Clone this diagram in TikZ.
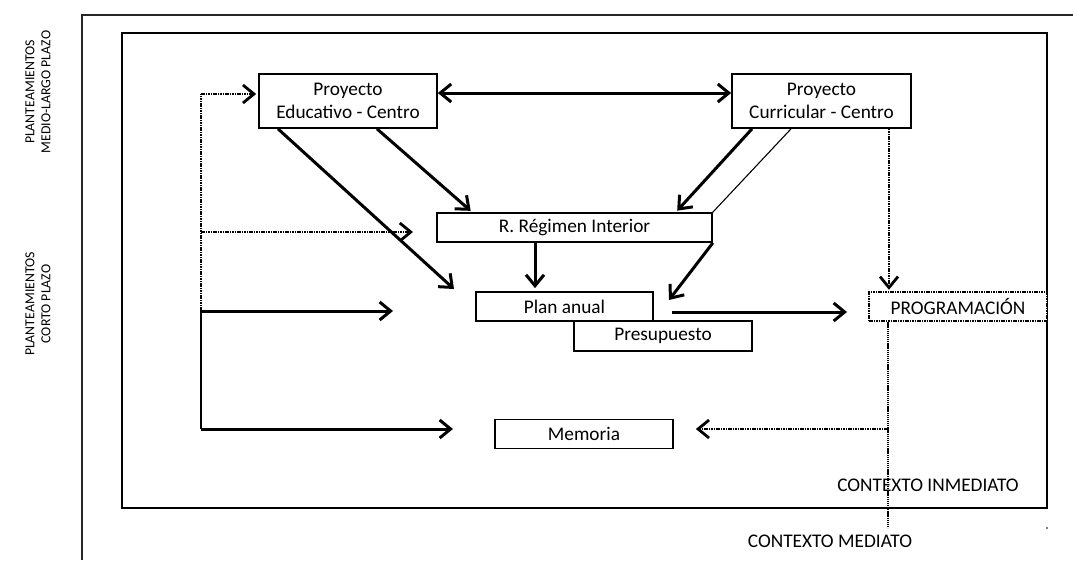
\documentclass[tikz,border=0pt]{standalone}
\usepackage{fontspec}
\setmainfont{Carlito}
\usetikzlibrary{arrows.meta}
\begin{document}
\begin{tikzpicture}[x=1pt,y=-1pt,
  txt/.style={font=\fontsize{19.3}{23}\selectfont},
  box/.style={txt, draw, fill=white, line width=1.7pt, inner sep=0pt,
    minimum width=178pt, minimum height=29pt, align=center},
  dotbox/.style={box, dash pattern=on 1.6pt off 0.8pt, line width=2.4pt},
  arr/.style={line width=3pt, -{Straight Barb[length=11pt,width=18pt]}},
  dotarr/.style={line width=2.8pt, dash pattern=on 1.6pt off 0.8pt,
    -{Straight Barb[length=11pt,width=18pt]}},
  dotline/.style={line width=2.8pt, dash pattern=on 1.6pt off 0.8pt},
  fineline/.style={line width=1.3pt, dash pattern=on 1.3pt off 0.8pt},
  side/.style={font=\fontsize{13.8}{16}\selectfont, align=center, rotate=90}]

\useasboundingbox (0,0) rectangle (1073,560);

% outer frame (open on right and bottom) and inner frame
\draw[line width=1.4pt, black!85] (82,560) -- (82,15) -- (1073,15);
\draw[line width=2pt] (122,33) rectangle (1047,508);

% side labels
\node[side] (medio) at (38,92) {PLANTEAMIENTOS\\MEDIO-LARGO PLAZO};
\node[side] (corto) at (38,304) {PLANTEAMIENTOS\\CORTO PLAZO};

% documents
\node[box, minimum height=54pt] (pec) at (348,101) {Proyecto\\Educativo - Centro};
\node[box, minimum width=179pt, minimum height=54pt] (pcc) at (821.5,101) {Proyecto\\Curricular - Centro};
\node[box, minimum width=275pt] (rri) at (574.5,227.5) {R. Régimen Interior};
\node[box, minimum width=177pt] (plan) at (564.5,306.5) {Plan anual};
\node[box, minimum height=30pt] (pres) at (663,336) {Presupuesto};
\node[box] (mem) at (584,434) {Memoria};
\node[dotbox] (prog) at (958,306.5) {PROGRAMACIÓN};

% context labels
\node[txt] (inm) at (928,485) {CONTEXTO INMEDIATO};
\node[txt] (med) at (830,541) {CONTEXTO MEDIATO};

% free ends of connectors
\coordinate (t1) at (454,289);
\coordinate (t2) at (669,300);
\coordinate (h1) at (672,312);
\coordinate (h2) at (847,312);
\coordinate (lt) at (201,94);
\coordinate (lm) at (201,232);
\coordinate (lmend) at (413,232);
\coordinate (ls) at (201,311);
\coordinate (lsend) at (393,311);
\coordinate (lb) at (201,429);
\coordinate (lbend) at (453,429);
\coordinate (pend) at (888,528);
\coordinate (pj) at (888,429);
\coordinate (corner) at (1047,528);

% links between the projects
\draw[line width=3pt, {Straight Barb[length=11pt,width=18pt]}-{Straight Barb[length=11pt,width=18pt]}]
  ([yshift=8pt]pec.east) -- ([yshift=8pt]pcc.west);
\draw[arr] ([xshift=-70pt]pec.south) -- (t1);
\draw[arr, shorten >=2pt] ([xshift=29pt]pec.south) -- ([xshift=36pt]rri.north west);
\draw[arr, shorten >=2pt] ([xshift=-69.5pt]pcc.south) -- ([xshift=-37pt]rri.north east);
\draw[line width=1.1pt] ([xshift=-30.5pt]pcc.south) -- (rri.north east);
\draw[arr] (rri.south east) -- (t2);
\draw[arr, shorten >=3pt] ([xshift=-39.5pt]rri.south) -- ([xshift=-39.5pt]rri.south |- plan.north);
\draw[arr] (h1) -- (h2);

% programación
\draw[dotarr, shorten >=1pt] ([xshift=67.5pt]pcc.south) -- ([xshift=67.5pt]pcc.south |- prog.north);
\draw[fineline] ([xshift=-70pt]prog.south) -- (pend);
\draw[dotarr, shorten >=22pt] (pj) -- (pj -| mem.east);

% left feedback lines
\draw[dotline] (ls) -- (lt);
\draw[dotarr, shorten >=2pt] (lt) -- (lt -| pec.west);
\draw[dotarr] (lm) -- (lmend);
\draw[line width=1.9pt] (ls) -- (lb);
\draw[arr] (ls) -- (lsend);
\draw[arr] (lb) -- (lbend);

\fill (corner) circle (0.9pt);
\end{tikzpicture}
\end{document}
